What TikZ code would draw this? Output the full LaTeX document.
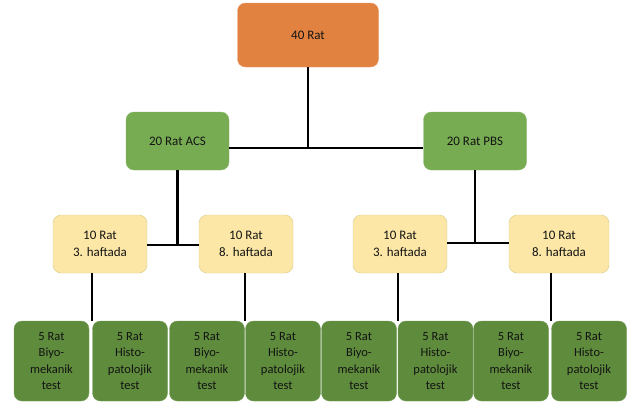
\documentclass[tikz,border=0pt]{standalone}
\usepackage{fontspec}
\setmainfont{Carlito}
\usepackage{tikz}
\usetikzlibrary{positioning}
\definecolor{ratorange}{RGB}{226,130,64}
\definecolor{ratgreen}{RGB}{119,172,82}
\definecolor{ratdark}{RGB}{94,139,60}
\definecolor{ratyellow}{RGB}{252,231,167}
\definecolor{ratyellowline}{RGB}{214,204,140}

\begin{document}
\begin{tikzpicture}[x=1pt, y=-1pt,
  box/.style={rounded corners=8pt, align=center, inner sep=2pt,
    text=black!92, font=\fontsize{13}{16.5}\selectfont},
  top/.style={box, fill=ratorange, draw=ratorange!80!white,
    minimum width=141pt, minimum height=64pt},
  grp/.style={box, fill=ratgreen, draw=ratgreen!85!white,
    minimum width=103pt, minimum height=58pt},
  week/.style={box, fill=ratyellow, draw=ratyellowline,
    minimum width=94pt, minimum height=58pt},
  test/.style={box, fill=ratdark, draw=ratdark!85!white,
    minimum width=75pt, minimum height=80pt,
    font=\fontsize{12.5}{16.5}\selectfont},
  link/.style={line width=2.2pt, black}]
\useasboundingbox (0,0) rectangle (630,407);
% Top
\node[top] (rat40) at (308,35) {40 Rat};
% Groups
\node[grp] (acs) at (177.5,141) {20 Rat ACS};
\node[grp] (pbs) at (475,141) {20 Rat PBS};
\coordinate (jtop) at (308,148);
\draw[link] (rat40) -- (jtop);
\draw[link] (acs.east |- jtop) -- (pbs.west |- jtop);
% Weeks
\node[week] (acs3) at (100,244) {10 Rat\\3. haftada};
\node[week] (acs8) at (246,244) {10 Rat\\8. haftada};
\node[week] (pbs3) at (400,244) {10 Rat\\3. haftada};
\node[week, minimum width=100pt] (pbs8) at (559,244) {10 Rat\\8. haftada};
\coordinate (jacs) at (177.5,245);
\coordinate (jpbs) at (475,243);
\draw[link] (acs) -- (jacs);
\draw[link] (acs3.east |- jacs) -- (acs8.west |- jacs);
\draw[link] (pbs) -- (jpbs);
\draw[link] (pbs3.east |- jpbs) -- (pbs8.west |- jpbs);
% Tests
\node[test] (t1) at (51.5,361) {5 Rat\\Biyo-\\mekanik\\test};
\node[test] (t2) at (130,361) {5 Rat\\Histo-\\patolojik\\test};
\node[test] (t3) at (207,361) {5 Rat\\Biyo-\\mekanik\\test};
\node[test] (t4) at (283,361) {5 Rat\\Histo-\\patolojik\\test};
\node[test] (t5) at (359,361) {5 Rat\\Biyo-\\mekanik\\test};
\node[test] (t6) at (435.5,361) {5 Rat\\Histo-\\patolojik\\test};
\node[test] (t7) at (511,361) {5 Rat\\Biyo-\\mekanik\\test};
\node[test] (t8) at (589,361) {5 Rat\\Histo-\\patolojik\\test};
\draw[link] (acs3.south -| t2.north west) -- (t2.north west);
\draw[link] (acs8.south -| t4.north west) -- (t4.north west);
\draw[link] (pbs3.south -| t6.north west) -- (t6.north west);
\draw[link] (pbs8.south -| t8.north west) -- (t8.north west);
\end{tikzpicture}
\end{document}
